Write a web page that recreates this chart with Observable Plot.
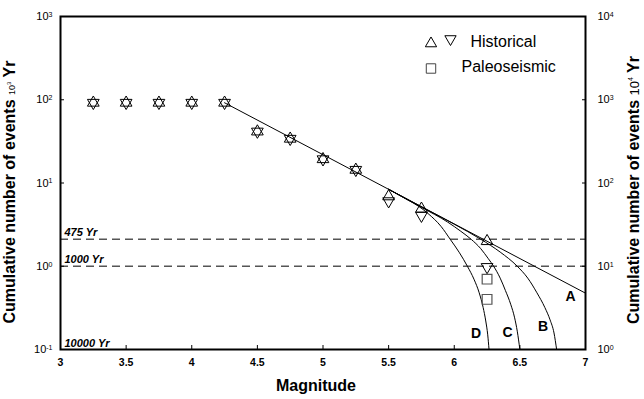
<!DOCTYPE html>
<html><head><meta charset="utf-8">
<script src="https://cdn.jsdelivr.net/npm/d3@7"></script>
<script src="https://cdn.jsdelivr.net/npm/@observablehq/plot@0.6"></script>
<style>
body{margin:0;background:#fff;}
#chart{width:644px;height:399px;}
</style></head><body><div id="chart"></div>
<script>
// ---- data ----
const magnitudes = [3.25, 3.5, 3.75, 4, 4.25, 4.5, 4.75, 5, 5.25, 5.5, 5.75, 6.25];
const historicalUp = [92, 92, 92, 92, 92, 41.5, 34, 19.3, 14.4, 6.9, 4.9, 2.0];
const historicalDown = [92, 92, 92, 92, 92, 41.5, 34, 19.3, 14.4, 6.05, 4.05, 0.98];
const paleoMagnitudes = [6.25, 6.25];
const paleoEvents = [0.70, 0.40];

const lineA_M = [4.25, 7];
const lineA_N = [92, 0.475];
const curveB_M = [5.5, 5.8, 6.0, 6.2, 6.35, 6.48, 6.56, 6.63, 6.69, 6.73, 6.76, 6.78];
const curveB_N = [8.4, 4.7, 3.2, 2.12, 1.48, 1.0, 0.72, 0.48, 0.32, 0.227, 0.158, 0.1];
const curveC_M = [5.5, 5.75, 5.95, 6.05, 6.13, 6.2, 6.26, 6.3, 6.35, 6.39, 6.43, 6.46, 6.48, 6.5];
const curveC_N = [8.4, 5.1, 3.39, 2.63, 2.1, 1.64, 1.23, 1.0, 0.72, 0.51, 0.35, 0.24, 0.166, 0.1];
const curveD_M = [5.5, 5.65, 5.725, 5.8, 5.9, 5.97, 6.04, 6.1, 6.15, 6.19, 6.22, 6.24, 6.255, 6.265];
const curveD_N = [8.4, 6.2, 5.3, 4.3, 3.0, 2.1, 1.45, 1.0, 0.7, 0.48, 0.32, 0.22, 0.15, 0.1];

const curveNames = ["A", "B", "C", "D"];
const curveLabelM = [6.886, 6.676, 6.406, 6.167];
const curveLabelN = [0.433, 0.189, 0.160, 0.156];

const returnPeriodLabels = ["475 Yr", "1000 Yr", "10000 Yr"];
const returnPeriodRates = [2.105, 1, 0.1];

const xTicks = [3, 3.5, 4, 4.5, 5, 5.5, 6, 6.5, 7];
const xTickLabels = ["3", "3.5", "4", "4.5", "5", "5.5", "6", "6.5", "7"];
const xInnerTicks = [3.5, 4, 4.5, 5, 5.5, 6, 6.5];
const yTicks = [0.1, 1, 10, 100, 1000];
const yInnerTicks = [1, 10, 100];
const leftTickExponents = ["-1", "0", "1", "2", "3"];
const rightTickExponents = ["0", "1", "2", "3", "4"];

const legendLabels = ["Historical", "Paleoseismic"];

// ---- tables ----
const up = magnitudes.map((m, i) => ({M: m, N: historicalUp[i]}));
const down = magnitudes.map((m, i) => ({M: m, N: historicalDown[i]}));
const paleo = paleoMagnitudes.map((m, i) => ({M: m, N: paleoEvents[i]}));
const lineA = lineA_M.map((m, i) => ({M: m, N: lineA_N[i]}));
const curves = [
  ...curveB_M.map((m, i) => ({curve: "B", M: m, N: curveB_N[i]})),
  ...curveC_M.map((m, i) => ({curve: "C", M: m, N: curveC_N[i]})),
  ...curveD_M.map((m, i) => ({curve: "D", M: m, N: curveD_N[i]}))
];
const curveLabels = curveNames.map((t, i) => ({t, M: curveLabelM[i], N: curveLabelN[i]}));
const periods = returnPeriodLabels.map((t, i) => ({t, rate: returnPeriodRates[i]}));
const dashed = periods.filter(d => d.rate > yTicks[0]);

const font = "'Liberation Sans', Arial, Helvetica, sans-serif";
const leftFmt = d => "10^" + leftTickExponents[yTicks.indexOf(d)];
const rightFmt = d => "10^" + rightTickExponents[yTicks.indexOf(d)];
const xFmt = d => xTickLabels[xTicks.indexOf(d)];

const plot = Plot.plot({
  width: 644, height: 399,
  marginLeft: 60, marginRight: 59, marginTop: 16, marginBottom: 50,
  style: {fontFamily: font, background: "#fff", overflow: "visible", color: "#000"},
  x: {domain: [3, 7]},
  y: {type: "log", domain: [0.1, 1000]},
  marks: [
    Plot.ruleY(dashed, {y: "rate", stroke: "#555", strokeWidth: 1.5, strokeDasharray: "8,5"}),
    Plot.line(lineA, {x: "M", y: "N", stroke: "#000", strokeWidth: 1}),
    Plot.line(curves, {x: "M", y: "N", z: "curve", curve: "monotone-x", stroke: "#000", strokeWidth: 1}),
    Plot.dot(up, {x: "M", y: "N", symbol: "triangle2", r: 5.6, stroke: "#000", fill: "none", strokeWidth: 1}),
    Plot.dot(down, {x: "M", y: "N", symbol: "triangle2", rotate: 180, r: 5.6, stroke: "#000", fill: "none", strokeWidth: 1}),
    Plot.dot(paleo, {x: "M", y: "N", symbol: "square2", r: 6.2, stroke: "#555", fill: "none", strokeWidth: 1.2}),
    Plot.text(periods, {y: "rate", frameAnchor: "left", dx: 4, dy: -3, lineAnchor: "bottom", text: "t", textAnchor: "start", fontSize: 11, fontWeight: "bold", fontStyle: "italic"}),
    Plot.text(curveLabels, {x: "M", y: "N", text: "t", fontSize: 14, fontWeight: "bold"}),
    // legend
    Plot.dot([legendLabels[0]], {frameAnchor: "top-left", dx: 370.5, dy: 27, symbol: "triangle2", r: 5.4, stroke: "#000", fill: "none", strokeWidth: 1}),
    Plot.dot([legendLabels[0]], {frameAnchor: "top-left", dx: 390, dy: 22.5, symbol: "triangle2", rotate: 180, r: 5.4, stroke: "#000", fill: "none", strokeWidth: 1}),
    Plot.dot([legendLabels[1]], {frameAnchor: "top-left", dx: 370.5, dy: 52, symbol: "square2", r: 6, stroke: "#444", fill: "none", strokeWidth: 1}),
    Plot.text([legendLabels[0]], {frameAnchor: "top-left", dx: 410, dy: 30.5, text: d => d, textAnchor: "start", lineAnchor: "bottom", fontSize: 16}),
    Plot.text([legendLabels[1]], {frameAnchor: "top-left", dx: 401, dy: 55.5, text: d => d, textAnchor: "start", lineAnchor: "bottom", fontSize: 16}),
    // axes
    Plot.axisY({anchor: "left", ticks: yTicks, tickSize: 0, tickPadding: 8, tickFormat: leftFmt, fontSize: 11, label: null}),
    Plot.axisY({anchor: "left", ticks: yInnerTicks, tickSize: -4, tickFormat: () => "", label: null}),
    Plot.axisY({anchor: "right", ticks: yTicks, tickSize: 0, tickPadding: 12, tickFormat: rightFmt, fontSize: 11, label: null}),
    Plot.axisY({anchor: "right", ticks: yInnerTicks, tickSize: -4, tickFormat: () => "", label: null}),
    Plot.axisX({ticks: xTicks, tickSize: 0, tickPadding: 9, tickFormat: xFmt, fontSize: 10.5, fontWeight: "bold", label: null}),
    Plot.axisX({ticks: xInnerTicks, tickSize: -4, tickFormat: () => "", label: null}),
    Plot.frame({stroke: "#000", strokeWidth: 2})
  ]
});

const svg = d3.select(plot);
// superscript tick labels
svg.selectAll("text").each(function () {
  const s = this.textContent;
  const m = /^10\^(-?\d+)$/.exec(s);
  if (m) {
    this.textContent = "10";
    d3.select(this).append("tspan").attr("dy", "-0.45em").attr("font-size", "7px").text(m[1]);
  }
});

// axis titles
const leftT = svg.append("text")
  .attr("transform", "translate(15,192) rotate(-90)")
  .attr("text-anchor", "middle").attr("font-family", font).attr("fill", "#000");
leftT.append("tspan").attr("font-size", 16).attr("font-weight", "bold").text("Cumulative number of events ");
leftT.append("tspan").attr("font-size", 9).text("10");
leftT.append("tspan").attr("font-size", 6).attr("dy", -4).text("3");
leftT.append("tspan").attr("font-size", 16).attr("font-weight", "bold").attr("dy", 4).text(" Yr");

const rightT = svg.append("text")
  .attr("transform", "translate(639,190) rotate(-90)")
  .attr("text-anchor", "middle").attr("font-family", font).attr("fill", "#000");
rightT.append("tspan").attr("font-size", 16).attr("font-weight", "bold").text("Cumulative number of events ");
rightT.append("tspan").attr("font-size", 13).text("10");
rightT.append("tspan").attr("font-size", 7).attr("dy", -6).text("4");
rightT.append("tspan").attr("font-size", 16).attr("font-weight", "bold").attr("dy", 6).text(" Yr");

svg.append("text")
  .attr("x", 316).attr("y", 391)
  .attr("text-anchor", "middle").attr("font-family", font)
  .attr("font-size", 16).attr("font-weight", "bold").attr("fill", "#000")
  .text("Magnitude");

document.getElementById("chart").append(plot);
</script>
</body></html>
